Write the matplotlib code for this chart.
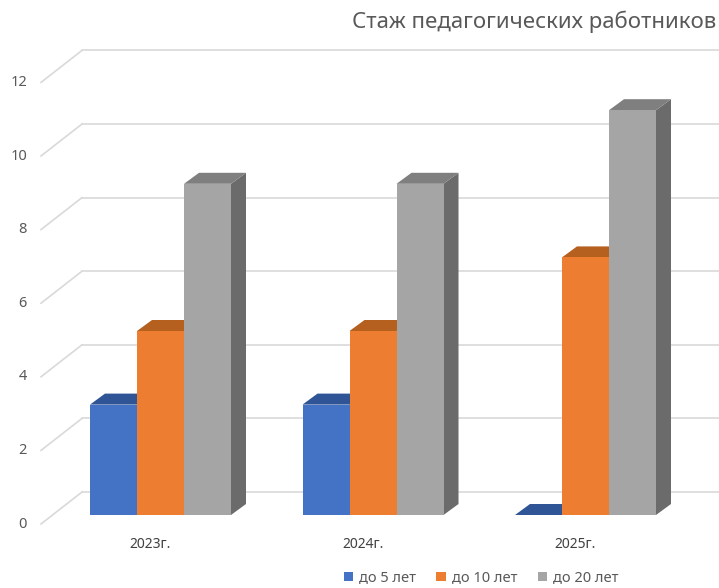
import matplotlib.pyplot as plt
from matplotlib.patches import Polygon, Patch

plt.rcParams['font.family'] = ['Noto Sans', 'DejaVu Sans']

# Data
years = ['2023г.', '2024г.', '2025г.']
series = ['до 5 лет', 'до 10 лет', 'до 20 лет']
up_to_5 = [3, 3, 0]
up_to_10 = [5, 5, 7]
up_to_20 = [9, 9, 11]
y_ticks = [0, 2, 4, 6, 8, 10, 12]

values = [up_to_5, up_to_10, up_to_20]
front_colors = ['#4472C4', '#ED7D31', '#A5A5A5']
top_colors = ['#2F5597', '#B5601F', '#7F7F7F']
side_colors = ['#2E4F8C', '#A9561B', '#6B6B6B']

W, H = 719, 588
fig = plt.figure(figsize=(W / 100, H / 100), dpi=100)
ax = fig.add_axes([0, 0, 1, 1])

# scale: one category step = 212.5 px, one value unit = 36.8 px
px_x, px_y = 212.5, 36.8
x0_px, y0_px = 160.5, 515
ax.set_xlim(-x0_px / px_x, (W - x0_px) / px_x)
ax.set_ylim(-(H - y0_px) / px_y, y0_px / px_y)
ax.axis('off')

bar_w = 47 / px_x
dx, dy = 15 / px_x, 11 / px_y            # bar depth
wall_dx, wall_dy = 41 / px_x, 32 / px_y  # front plane -> back wall
front_dy = -9 / px_y                     # front plane below bar base
front_x = (41 - x0_px) / px_x

# gridlines: diagonal on the left wall + line on back wall
for t in y_ticks:
    yf = t + front_dy
    yb = yf + wall_dy
    ax.plot([front_x, front_x + wall_dx], [yf, yb], color='#D9D9D9', lw=1.2, zorder=1)
    ax.plot([front_x + wall_dx, ax.get_xlim()[1]], [yb, yb], color='#D9D9D9', lw=1.2, zorder=1)
    ax.text(front_x - 14 / px_x, yf, str(t), ha='right', va='center',
            fontsize=10.5, color='#595959')

# 3D-looking bars
for i in range(len(years)):
    for s in range(len(series)):
        v = values[s][i]
        left = i + (s - 1.5) * bar_w
        right = left + bar_w
        side = Polygon([(right, 0), (right + dx, dy), (right + dx, v + dy), (right, v)],
                       closed=True, fc=side_colors[s], ec='none', zorder=2)
        top = Polygon([(left, v), (left + dx, v + dy), (right + dx, v + dy), (right, v)],
                      closed=True, fc=top_colors[s], ec='none', zorder=2)
        ax.add_patch(side)
        ax.add_patch(top)
        if v > 0:
            front = Polygon([(left, 0), (right, 0), (right, v), (left, v)],
                            closed=True, fc=front_colors[s], ec='none', zorder=2)
            ax.add_patch(front)

# category labels
for i, name in enumerate(years):
    ax.text(i - 10 / px_x, -30 / px_y, name, ha='center', va='center',
            fontsize=10, color='#404040')

fig.text(716 / W, 1 - 22 / H, 'Стаж педагогических работников', ha='right', va='center',
         fontsize=16, color='#595959')

handles = [Patch(fc=c, ec='none', label=n) for c, n in zip(front_colors, series)]
fig.legend(handles=handles, loc='center', bbox_to_anchor=(481 / W, 1 - 578 / H),
           ncol=3, frameon=False, fontsize=10.5, handlelength=0.65, handleheight=0.65,
           handletextpad=0.4, columnspacing=1.4, labelcolor='#595959')

fig.savefig('out.png', dpi=100)
